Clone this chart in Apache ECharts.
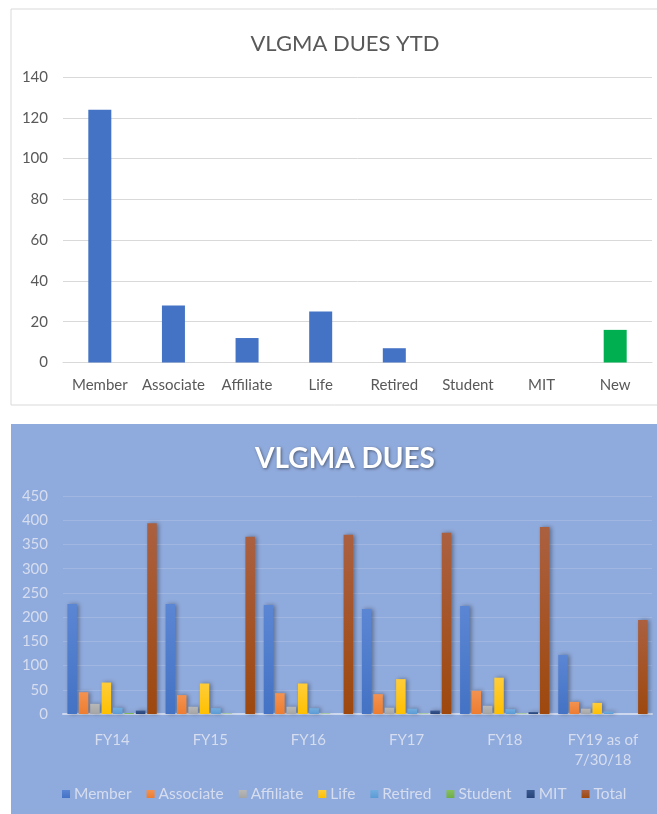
<!DOCTYPE html>
<html>
<head>
<meta charset="utf-8">
<script src="https://cdn.jsdelivr.net/npm/echarts@6/dist/echarts.min.js"></script>
<style>
html,body{margin:0;padding:0;background:#fff;}
#c{width:657px;height:814px;}
</style>
</head>
<body>
<div id="c"></div>
<script>
// ---- Top chart data: VLGMA DUES YTD ----
var ytdCategories = ['Member', 'Associate', 'Affiliate', 'Life', 'Retired', 'Student', 'MIT', 'New'];
var ytdValues = [124, 28, 12, 25, 7, 0, 0, 16];
var ytdTicks = [0, 20, 40, 60, 80, 100, 120, 140];

// ---- Bottom chart data: VLGMA DUES ----
var fyCategories = ['FY14', 'FY15', 'FY16', 'FY17', 'FY18', 'FY19 as of\n7/30/18'];
var seriesNames = ['Member', 'Associate', 'Affiliate', 'Life', 'Retired', 'Student', 'MIT', 'Total'];
var member    = [227, 227, 225, 217, 223, 122];
var associate = [45, 39, 43, 41, 48, 25];
var affiliate = [21, 15, 15, 13, 17, 11];
var life      = [65, 63, 63, 72, 75, 23];
var retired   = [13, 12, 12, 11, 10, 5];
var student   = [2, 1, 1, 1, 1, 0];
var mit       = [7, 0, 0, 7, 4, 0];
var total     = [394, 366, 370, 374, 386, 194];
var duesTicks = [0, 50, 100, 150, 200, 250, 300, 350, 400, 450];

var seriesValues = [member, associate, affiliate, life, retired, student, mit, total];
var seriesColors = ['#4472c4', '#ed7d31', '#a5a5a5', '#ffc000', '#5b9bd5', '#70ad47', '#264478', '#9e480e'];
var seriesTopColors = ['#5b86d4', '#f49250', '#b8b8b8', '#ffcd3a', '#73ade0', '#86c160', '#3b5a92', '#ab6040'];

var chart = echarts.init(document.getElementById('c'), null, {renderer: 'canvas'});
var FONT = 'Lato, "Open Sans", sans-serif';

var series = [{
  name: 'YTD',
  type: 'bar',
  xAxisIndex: 0, yAxisIndex: 0,
  barWidth: 23,
  data: ytdValues.map(function (v, i) {
    return {value: v, itemStyle: {color: ytdCategories[i] === 'New' ? '#00b050' : '#4472c4'}};
  }),
  silent: true
}];

seriesNames.forEach(function (name, i) {
  series.push({
    name: name,
    type: 'bar',
    xAxisIndex: 1, yAxisIndex: 1,
    barCategoryGap: '9%',
    barGap: '20%',
    data: seriesValues[i],
    itemStyle: {
      color: new echarts.graphic.LinearGradient(0, 0, 0, 1, [
        {offset: 0, color: seriesTopColors[i]},
        {offset: 1, color: seriesColors[i]}
      ]),
      shadowColor: 'rgba(0,0,0,0.35)',
      shadowBlur: 4,
      shadowOffsetX: 2
    },
    silent: true
  });
});

chart.setOption({
  animation: false,
  textStyle: {fontFamily: FONT},
  graphic: [
    {type: 'rect', z: -10, shape: {x: 11, y: 9, width: 700, height: 396},
     style: {fill: '#ffffff', stroke: '#d9d9d9', lineWidth: 1}},
    {type: 'rect', z: -10, shape: {x: 11, y: 424, width: 700, height: 400},
     style: {fill: '#8faadc'}}
  ],
  title: [
    {text: 'VLGMA DUES YTD', left: 340, textAlign: 'center', top: 28,
     textStyle: {fontFamily: FONT, fontSize: 22, fontWeight: 'normal', color: '#595959'}},
    {text: 'VLGMA DUES', left: 340, textAlign: 'center', top: 440,
     textStyle: {fontFamily: FONT, fontSize: 28, fontWeight: 'bold', color: '#ffffff',
       textShadowColor: 'rgba(0,0,0,0.45)', textShadowBlur: 3, textShadowOffsetX: 1, textShadowOffsetY: 1}}
  ],
  legend: {
    data: seriesNames,
    left: 57, top: 781,
    itemWidth: 8, itemHeight: 8, itemGap: 15,
    icon: 'rect',
    textStyle: {fontFamily: FONT, fontSize: 15.5, color: '#d6ddef', padding: [0, 0, 0, -1]}
  },
  grid: [
    {left: 63, right: 5, top: 77, height: 285.5, containLabel: false},
    {left: 63, right: 5, top: 496, height: 218, containLabel: false}
  ],
  xAxis: [
    {type: 'category', gridIndex: 0, data: ytdCategories,
     axisLine: {lineStyle: {color: '#d9d9d9', width: 1}},
     axisTick: {show: false},
     axisLabel: {fontFamily: FONT, fontSize: 15, color: '#595959', margin: 15, interval: 0}},
    {type: 'category', gridIndex: 1, data: fyCategories,
     axisLine: {lineStyle: {color: '#cdd7ee', width: 2}},
     axisTick: {show: false},
     axisLabel: {fontFamily: FONT, fontSize: 15, color: '#d6ddef', margin: 16, lineHeight: 20, interval: 0}}
  ],
  yAxis: [
    {type: 'value', gridIndex: 0, min: ytdTicks[0], max: ytdTicks[ytdTicks.length - 1], interval: 20,
     axisLine: {show: false}, axisTick: {show: false},
     splitLine: {lineStyle: {color: '#d9d9d9', width: 1}},
     axisLabel: {fontFamily: FONT, fontSize: 15, color: '#595959', margin: 15}},
    {type: 'value', gridIndex: 1, min: duesTicks[0], max: duesTicks[duesTicks.length - 1], interval: 50,
     axisLine: {show: false}, axisTick: {show: false},
     splitLine: {lineStyle: {color: '#a1b7e2', width: 1}},
     axisLabel: {fontFamily: FONT, fontSize: 15, color: '#d6ddef', margin: 15}}
  ],
  series: series
});
</script>
</body>
</html>
